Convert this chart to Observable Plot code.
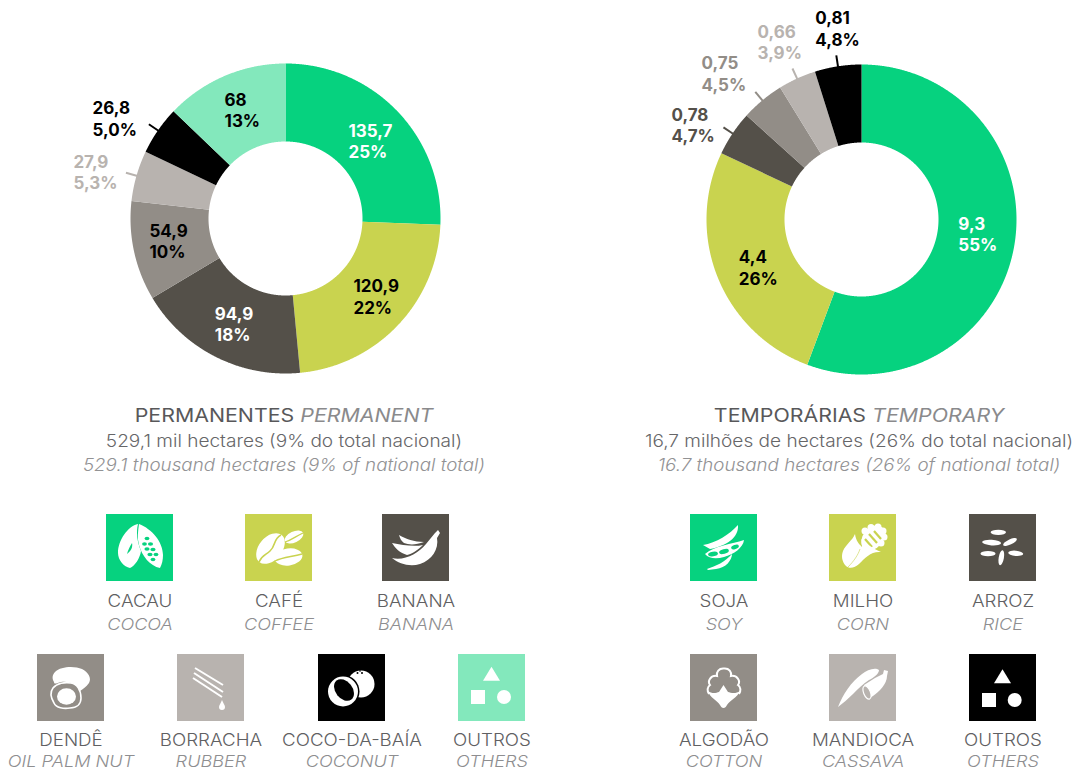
<!DOCTYPE html>
<html lang="pt">
<head>
<meta charset="utf-8">
<script src="https://cdn.jsdelivr.net/npm/d3@7"></script>
<script src="https://cdn.jsdelivr.net/npm/@observablehq/plot@0.6"></script>
<style>
  html, body { margin: 0; padding: 0; background: #fff; }
  body { width: 1078px; height: 770px; position: relative; overflow: hidden; font-family: Inter, "Open Sans", sans-serif; }
  svg.donut { position: absolute; top: 0; overflow: visible; background: transparent; }
  .cap { position: absolute; white-space: nowrap; text-align: center; line-height: 14px; }
  .cap-title { font-size: 18px; color: #58585a; font-weight: 400; transform: translateX(-50%) scaleX(1.186); }
  .cap-title i { color: #8a8a8c; }
  .cap-main { font-size: 17px; color: #666668; font-weight: 300; transform: translateX(-50%) scaleX(1.12); }
  .cap-en { font-size: 17px; color: #929294; font-style: italic; font-weight: 300; transform: translateX(-50%) scaleX(1.105); }
  .tile { position: absolute; width: 67px; height: 67px; }
  .tile svg { display: block; width: 67px; height: 67px; }
  .lab-pt { font-size: 17.5px; color: #606062; font-weight: 300; transform: translateX(-50%) scaleX(1.07); }
  .lab-en { font-size: 16.5px; color: #8e8e90; font-style: italic; font-weight: 300; transform: translateX(-50%) scaleX(1.1); }
</style>
</head>
<body>
<script>
// ---- data ----
const permanentCrops = ["Cacau", "Café", "Banana", "Dendê", "Borracha", "Coco-da-baía", "Outros"];
const permanentValues = [135.7, 120.9, 94.9, 54.9, 27.9, 26.8, 68];
const permanentValueLabels = ["135,7", "120,9", "94,9", "54,9", "27,9", "26,8", "68"];
const permanentShareLabels = ["25%", "22%", "18%", "10%", "5,3%", "5,0%", "13%"];
const permanentColors = ["#06d27f", "#c9d34f", "#545049", "#928d87", "#b8b3af", "#000000", "#83e8bc"];
const permanentInks = ["#ffffff", "#000000", "#ffffff", "#000000", "#b8b3af", "#000000", "#000000"];

const temporaryCrops = ["Soja", "Milho", "Arroz", "Algodão", "Mandioca", "Outros"];
const temporaryValues = [9.3, 4.4, 0.78, 0.75, 0.66, 0.81];
const temporaryValueLabels = ["9,3", "4,4", "0,78", "0,75", "0,66", "0,81"];
const temporaryShareLabels = ["55%", "26%", "4,7%", "4,5%", "3,9%", "4,8%"];
const temporaryColors = ["#06d27f", "#c9d34f", "#545049", "#928d87", "#b8b3af", "#000000"];
const temporaryInks = ["#ffffff", "#000000", "#545049", "#928d87", "#b8b3af", "#000000"];

// label placement, polar, relative to each slice's middle (layout, not data)
const permanentLabelReach = [99.5, 103.9, 127.5, 138, 217, 217, 124];
const permanentLabelTurn = [-6.9, 5.7, 6.8, 2.5, -3.8, -7.4, -6.3];
const permanentTicks = [false, false, false, false, true, true, false];
const temporaryLabelReach = [98, 132, 212, 216, 205, 196];
const temporaryLabelTurn = [-1.45, 0.4, -7.4, -8, -5.9, -4.9];
const temporaryTicks = [false, false, true, true, true, true];

// ---- donut drawn with Plot marks ----
const OUTER = 155, INNER = 77, TICK = 11;
const polar = (r, deg) => {
  const a = deg * Math.PI / 180;
  return { x: r * Math.sin(a), y: r * Math.cos(a) };
};

function donut({ crops, values, valueLabels, shareLabels, colors, inks, reach, turn, ticks, left, width, cx, cy, height }) {
  const total = d3.sum(values);
  let run = 0;
  const slices = crops.map((crop, i) => {
    const a0 = run / total * 360;
    run += values[i];
    const a1 = run / total * 360;
    return { crop, a0, a1, mid: (a0 + a1) / 2, i };
  });
  const ring = slices.flatMap(s => {
    const steps = d3.range(s.a0, s.a1, 0.25).concat(s.a1);
    return [
      ...steps.map(a => ({ crop: s.crop, ...polar(OUTER, a) })),
      ...steps.slice().reverse().map(a => ({ crop: s.crop, ...polar(INNER, a) }))
    ];
  });
  const labels = slices.map(s => ({
    ...polar(reach[s.i], s.mid + turn[s.i]),
    text: valueLabels[s.i] + "\n" + shareLabels[s.i],
    ink: inks[s.i]
  }));
  const tickMarks = slices.filter(s => ticks[s.i]).map(s => {
    const p = polar(OUTER - 1, s.mid), q = polar(OUTER + TICK, s.mid);
    return { crop: s.crop, x1: p.x, y1: p.y, x2: q.x, y2: q.y };
  });
  const svg = Plot.plot({
    width, height, margin: 0,
    className: "donut-plot",
    x: { domain: [-cx, width - cx], range: [0, width], axis: null },
    y: { domain: [cy - height, cy], range: [height, 0], axis: null },
    color: { domain: crops, range: colors },
    style: { background: "transparent", overflow: "visible" },
    marks: [
      Plot.line(ring, { x: "x", y: "y", z: "crop", fill: "crop", stroke: "none" }),
      Plot.link(tickMarks, { x1: "x1", y1: "y1", x2: "x2", y2: "y2", stroke: "crop", strokeWidth: 2 }),
      Plot.text(labels, {
        x: "x", y: "y", dy: -1, text: "text", textAnchor: "start",
        fill: { value: d => d.ink, scale: null },
        fontSize: 17, fontWeight: 700, lineHeight: 1.26, fontFamily: "Inter, 'Open Sans', sans-serif"
      })
    ]
  });
  svg.classList.add("donut");
  svg.style.left = left + "px";
  document.body.appendChild(svg);
}

donut({
  crops: permanentCrops, values: permanentValues, valueLabels: permanentValueLabels,
  shareLabels: permanentShareLabels, colors: permanentColors, inks: permanentInks,
  reach: permanentLabelReach, turn: permanentLabelTurn, ticks: permanentTicks,
  left: 0, width: 540, height: 390, cx: 285, cy: 218
});
donut({
  crops: temporaryCrops, values: temporaryValues, valueLabels: temporaryValueLabels,
  shareLabels: temporaryShareLabels, colors: temporaryColors, inks: temporaryInks,
  reach: temporaryLabelReach, turn: temporaryLabelTurn, ticks: temporaryTicks,
  left: 540, width: 538, height: 390, cx: 321, cy: 219
});

// ---- captions ----
function addText(cls, html, x, y) {
  const d = document.createElement("div");
  d.className = "cap " + cls;
  d.innerHTML = html;
  d.style.left = x + "px";
  d.style.top = y + "px";
  document.body.appendChild(d);
}
const captions = [
  { x: 283.5, title: "PERMANENTES <i>PERMANENT</i>", main: "529,1 mil hectares (9% do total nacional)", en: "529.1 thousand hectares (9% of national total)" },
  { x: 859, title: "TEMPORÁRIAS <i>TEMPORARY</i>", main: "16,7 milhões de hectares (26% do total nacional)", en: "16.7 thousand hectares (26% of national total)" }
];
captions.forEach(c => {
  addText("cap-title", c.title, c.x, 409);
  addText("cap-main", c.main, c.x, 434);
  addText("cap-en", c.en, c.x, 458);
});

// ---- legend icons (drawn on a 67 x 67 tile) ----
const others = (t, s, c) => `<path d="M${t[0]} ${t[1]} L${t[0] + 8.5} ${t[1] + 14} L${t[0] - 8.5} ${t[1] + 14}Z"/><rect x="${s[0]}" y="${s[1]}" width="14" height="14"/><circle cx="${c[0]}" cy="${c[1]}" r="7"/>`;
const icons = {
  cacao: t => `<path d="M32 10 C22 12 12 26 12 39 C12 46 18 53 24 54 C29 52 34 44 35 37 C31 28 30 18 32 10Z"/><path d="M33 10 C46 15 57 28 57 41 C57 46 56 50 54 54 C44 52 36 42 33 31 C31 24 32 17 33 10Z"/>
    <g fill="${t}"><path d="M21 40 C22 36 24 32 26 29 C27 33 25 37 21 40Z"/><ellipse cx="41" cy="24.5" rx="2.4" ry="1.7"/><ellipse cx="38.5" cy="30" rx="2.4" ry="1.7"/><ellipse cx="44.5" cy="30" rx="2.6" ry="1.8"/><ellipse cx="41" cy="35" rx="2.6" ry="1.8"/><ellipse cx="47" cy="35.5" rx="2.6" ry="1.8"/><ellipse cx="44" cy="40.5" rx="2.6" ry="1.8"/><ellipse cx="50" cy="40.5" rx="2.4" ry="1.7"/><ellipse cx="47" cy="45.5" rx="2.4" ry="1.7"/></g>`,
  coffee: t => `<ellipse cx="25.5" cy="34.5" rx="11.5" ry="17.5" transform="rotate(40 25.5 34.5)"/><path d="M36 21 C28 25 31 32 25 37 C21 41 17 41 14 48" fill="none" stroke="${t}" stroke-width="1.6"/>
    <ellipse cx="49" cy="23" rx="10" ry="5.5" transform="rotate(-25 49 23)"/><path d="M40 28 C47 26 51 22 58 19" fill="none" stroke="${t}" stroke-width="1.2"/>
    <ellipse cx="43.5" cy="43" rx="14" ry="8.5" transform="rotate(-8 43.5 43)"/><path d="M30 47 C38 43 46 43 57 40" fill="none" stroke="${t}" stroke-width="1.3"/>`,
  banana: () => `<path d="M10 44 C22 47 36 40 44 30 L53 19 L56 16 L58 19 L55 24 C57 35 50 46 38 50 C28 53 17 50 10 44Z"/><path d="M10 29 C20 31 32 33 41 31 C36 36 30 40 25 41 C18 39 13 34 10 29Z"/><path d="M17 21 C24 25 32 28 42 28 C34 31 27 31 22 29 C19 27 18 24 17 21Z"/>`,
  palm: t => `<path d="M18 18 C24 12 38 12 45 15 C51 18 55 24 52 29 C49 33 46 35 43 37 C39 30 32 27 24 28 C20 29 17 31 17 28 C15 25 15 21 18 18Z"/>
    <path d="M16 34 C20 29 28 28 34 29 C40 30 44 36 44 44 C44 50 40 54 33 54 C27 55 19 54 17 49 C14 44 13 38 16 34Z" fill="${t}" stroke="#fff" stroke-width="1.6"/><ellipse cx="29.5" cy="42.5" rx="9.5" ry="8.2"/>`,
  rubber: () => `<g stroke="#fff" stroke-width="2" fill="none"><path d="M18 14 L46 31"/><path d="M17 19 L46 38"/><path d="M16 24 L45 43"/></g><path d="M45 46 C46 49 48 51 48 53 A3 3 0 0 1 42 53 C42 51 44 49 45 46Z"/>`,
  coconut: t => `<circle cx="43" cy="30" r="13.5"/><circle cx="39.5" cy="19" r="1" fill="${t}"/><circle cx="44" cy="19" r="1" fill="${t}"/><circle cx="42" cy="17" r="0.8" fill="${t}"/>
    <circle cx="25" cy="37.5" r="16.5" fill="${t}"/><circle cx="25" cy="37.5" r="15"/><ellipse cx="26" cy="36" rx="8.5" ry="12" transform="rotate(-38 26 36)" fill="${t}"/>`,
  others1: () => others([33.5, 12.7], [13, 36], [46, 43]),
  others2: () => others([33.5, 15.2], [13, 39], [45.7, 46]),
  soy: t => `<path d="M48 11 C49 24 36 32 20 35 L13 31 C26 29 40 20 48 11Z"/><path d="M15 40 C24 32 42 30 54 26 C53 34 44 40 34 43 C27 45 19 45 15 40Z"/>
    <g fill="${t}"><ellipse cx="23" cy="40" rx="5" ry="2.3" transform="rotate(-10 23 40)"/><ellipse cx="34" cy="37.5" rx="5" ry="2.3" transform="rotate(-15 34 37.5)"/><ellipse cx="45" cy="33" rx="4" ry="2" transform="rotate(-20 45 33)"/></g>
    <path d="M17 55 C26 52 35 48 42 40 C42 46 36 54 26 55 L18 56Z"/>`,
  corn: t => `<g><ellipse cx="44" cy="24" rx="10" ry="14" transform="rotate(40 44 24)"/><circle cx="36" cy="17" r="3.5"/><circle cx="42" cy="13.5" r="3.5"/><circle cx="49" cy="13" r="3.5"/><circle cx="54" cy="17" r="3.5"/><circle cx="55" cy="23" r="3.5"/><circle cx="52" cy="29" r="3.5"/></g>
    <g fill="none" stroke="${t}" stroke-width="2.2"><path d="M36 25 L43 33"/><path d="M40 20 L48 29"/><path d="M45 17 L52 25"/></g>
    <path d="M26 20 C27 27 30 30 33 33 C34 30 33 27 32 25 C37 29 41 33 52 38 C42 37 36 44 30 50 C26 54 20 55 17 52 C13 48 12 42 14 37 C17 30 23 27 26 20Z"/>
    <path d="M19 53 C25 47 29 41 31 35" fill="none" stroke="${t}" stroke-width="0.6"/>`,
  rice: () => `<ellipse cx="29.3" cy="18.3" rx="7.7" ry="2.6"/><ellipse cx="22.6" cy="28.6" rx="9.5" ry="2.8" transform="rotate(4 22.6 28.6)"/><ellipse cx="41" cy="28" rx="7.5" ry="2.6" transform="rotate(-25 41 28)"/><ellipse cx="19" cy="39.7" rx="7.5" ry="2.6"/><ellipse cx="46.7" cy="39.3" rx="7.5" ry="2.6" transform="rotate(5 46.7 39.3)"/><ellipse cx="32.3" cy="43.7" rx="7.6" ry="2.6" transform="rotate(-80 32.3 43.7)"/>`,
  cotton: () => `<path d="M34 14.5 C29 14 26 18 27 22 C21 21 17 27 20 31 C17 33 17 37 19 40 M34 14.5 C39 14 42 18 41 22 C47 21 51 27 48 31 C51 33 51 37 49 40" fill="none" stroke="#fff" stroke-width="2"/>
    <path d="M18 37 C20 44 27 46 30 51 C31 53 32 54 33.5 54 C35 54 36 53 37 51 C40 46 47 44 50 37 C46 40 41 39 38 38 L33.5 31 L29 38 C26 39 22 40 18 37Z"/>`,
  cassava: t => `<path d="M9 53 C14 40 22 28 33 20 C38 16 46 13 50 16 C50 20 44 24 40 26 C34 30 30 34 24 40 C19 45 14 49 9 53Z"/>
    <path d="M35 31 L46 24 L54 20 L55 16 L59 17 L58 22 C58 30 50 38 44 42 L39 45 Z"/><ellipse cx="38" cy="38.5" rx="3.4" ry="7" transform="rotate(-22 38 38.5)" fill="${t}" stroke="#fff" stroke-width="1.2"/>`
};

const legendRows = [
  { y: 514, ptTop: 594, enTop: 617, items: [
    { x: 106, color: "#06d27f", icon: "cacao", pt: "CACAU", en: "COCOA" },
    { x: 245, color: "#c9d34f", icon: "coffee", pt: "CAFÉ", en: "COFFEE" },
    { x: 382, color: "#545049", icon: "banana", pt: "BANANA", en: "BANANA" },
    { x: 690, color: "#06d27f", icon: "soy", pt: "SOJA", en: "SOY" },
    { x: 829, color: "#c9d34f", icon: "corn", pt: "MILHO", en: "CORN" },
    { x: 969, color: "#545049", icon: "rice", pt: "ARROZ", en: "RICE" }
  ]},
  { y: 654, ptTop: 733, enTop: 753.5, items: [
    { x: 37, color: "#928d87", icon: "palm", pt: "DENDÊ", en: "OIL PALM NUT" },
    { x: 177, color: "#b8b3af", icon: "rubber", pt: "BORRACHA", en: "RUBBER" },
    { x: 318, color: "#000000", icon: "coconut", pt: "COCO-DA-BAÍA", en: "COCONUT" },
    { x: 458, color: "#83e8bc", icon: "others1", pt: "OUTROS", en: "OTHERS" },
    { x: 690, color: "#928d87", icon: "cotton", pt: "ALGODÃO", en: "COTTON" },
    { x: 829, color: "#b8b3af", icon: "cassava", pt: "MANDIOCA", en: "CASSAVA" },
    { x: 969, color: "#000000", icon: "others2", pt: "OUTROS", en: "OTHERS" }
  ]}
];
legendRows.forEach(row => row.items.forEach(it => {
  const t = document.createElement("div");
  t.className = "tile";
  t.style.left = it.x + "px";
  t.style.top = row.y + "px";
  t.style.background = it.color;
  t.innerHTML = `<svg viewBox="0 0 67 67" fill="#fff">${icons[it.icon](it.color)}</svg>`;
  document.body.appendChild(t);
  addText("lab-pt", it.pt, it.x + 33.5, row.ptTop);
  addText("lab-en", it.en, it.x + 33.5, row.enTop);
}));
</script>
</body>
</html>
